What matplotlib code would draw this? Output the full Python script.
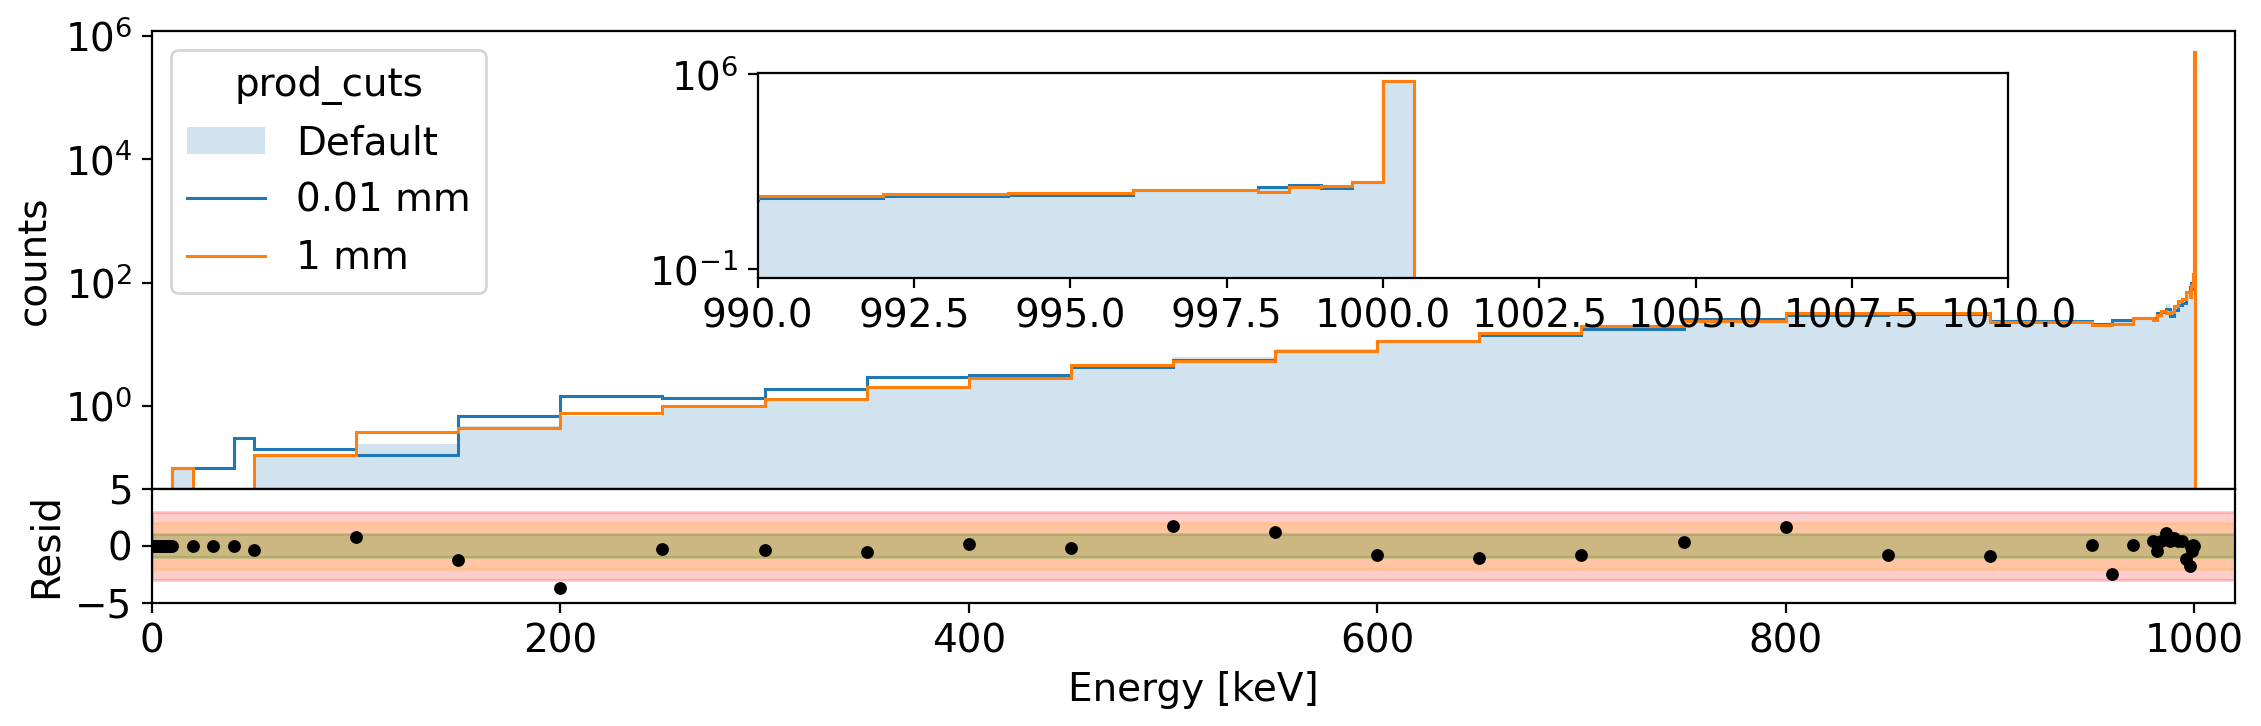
import numpy as np
from matplotlib import pyplot as plt
from matplotlib.ticker import NullLocator

# bin edges in keV (variable width)
edges = ([0, 1, 2, 3, 4, 5, 6, 7, 8, 9, 10, 20, 30, 40]
         + list(range(50, 951, 50))
         + [960, 970, 980, 982, 984, 986, 988, 990, 992, 994, 996, 998,
            998.5, 999, 999.5, 1000, 1000.5])

# counts per keV
default = [0] * 10 + [
    0.1, 0, 0, 0,
    0.16, 0.24, 0.48, 0.70, 0.98, 1.28, 2.0, 2.9, 4.3, 6.2, 8.3, 11.0,
    14.0, 18.0, 25.4, 30.0, 31.0, 24.0,
    21.0, 24.0, 26.0,
    26.0, 31.0, 34.0, 45.0, 33.0, 36.0, 43.0, 46.0, 70.0,
    86.0, 100.0, 79.0, 136.0, 5.5e5]
cut_001 = [0] * 10 + [
    0.1, 0.1, 0.1, 0.3,
    0.2, 0.16, 0.68, 1.44, 1.33, 1.86, 2.92, 3.14, 4.3, 5.5, 7.9, 11.2,
    14.0, 17.9, 25.4, 29.5, 31.0, 24.2,
    21.4, 24.8, 26.4,
    26.4, 31.8, 33.9, 37.0, 28.8, 36.0, 43.0, 46.0, 70.0,
    86.0, 100.0, 79.0, 136.0, 5.5e5]
cut_1 = [0] * 10 + [
    0.1, 0, 0, 0,
    0.16, 0.38, 0.44, 0.76, 1.0, 1.28, 2.0, 2.8, 4.7, 5.4, 7.9, 11.2,
    15.1, 19.8, 24.2, 31.8, 31.8, 22.7,
    20.6, 21.1, 26.4,
    24.8, 29.9, 34.7, 32.6, 33.9, 42.0, 50.0, 54.0, 70.0,
    58.0, 88.0, 93.0, 136.0, 5.5e5]

# residuals at the left bin edges
resid = [0] * 10 + [
    0, 0, 0, 0,
    -0.38, 0.76, -1.26, -3.71, -0.29, -0.38, -0.58, 0.15, -0.2, 1.7, 1.2,
    -0.82, -1.08, -0.82, 0.31, 1.64, -0.82, -0.91,
    0.06, -2.49, 0.06,
    0.38, -0.5, 0.4, 1.1, 0.4, 0.67, 0.4, 0.4, -1.17,
    -1.8, -0.1, -0.5, 0.1, 0.0]

labels = ['Default', '0.01 mm', '1 mm']


def draw_hists(ax):
    ax.stairs(default, edges, fill=True, color='C0', alpha=0.2, lw=0,
              label=labels[0])
    ax.stairs(cut_001, edges, color='C0', lw=1.1, label=labels[1])
    ax.stairs(cut_1, edges, color='C1', lw=1.1, label=labels[2])
    ax.set_yscale('log')


def plot_data():
    plt.rcParams['font.size'] = 14
    fig = plt.figure(figsize=(2261 / 200, 726 / 200), dpi=200)
    ax = fig.add_axes([0.0672, 0.3269, 0.9213, 0.6304])
    rax = fig.add_axes([0.0672, 0.1698, 0.9213, 0.1570], sharex=ax)

    draw_hists(ax)
    ax.set_ylim(10 ** -1.341, 10 ** 6.08)
    ax.set_yticks([1, 1e2, 1e4, 1e6])
    ax.yaxis.set_minor_locator(NullLocator())
    ax.set_ylabel('counts')
    ax.tick_params(axis='x', bottom=False, labelbottom=False)
    ax.legend(title='prod_cuts', loc='upper left')

    ins = fig.add_axes([0.3351, 0.6164, 0.5532, 0.2831])
    draw_hists(ins)
    ins.set_xlim(990, 1010)
    ins.set_ylim(10 ** -1.348, 10 ** 6.047)
    ins.set_yticks([1e-1, 1e6])
    ins.yaxis.set_minor_locator(NullLocator())

    rax.axhspan(-3, 3, color='red', alpha=0.2)
    rax.axhspan(-2, 2, color='orange', alpha=0.2)
    rax.axhspan(-1, 1, color='green', alpha=0.2)
    rax.plot(edges[:-1], resid, 'o', color='k', ms=3.6)
    rax.set_ylim(-5, 5)
    rax.set_yticks([-5, 0, 5])
    rax.set_xlim(0, 1020)
    rax.set_ylabel('Resid')
    rax.set_xlabel('Energy [keV]')

    fig.savefig('out.png', dpi=200)


if __name__ == '__main__':
    plot_data()
